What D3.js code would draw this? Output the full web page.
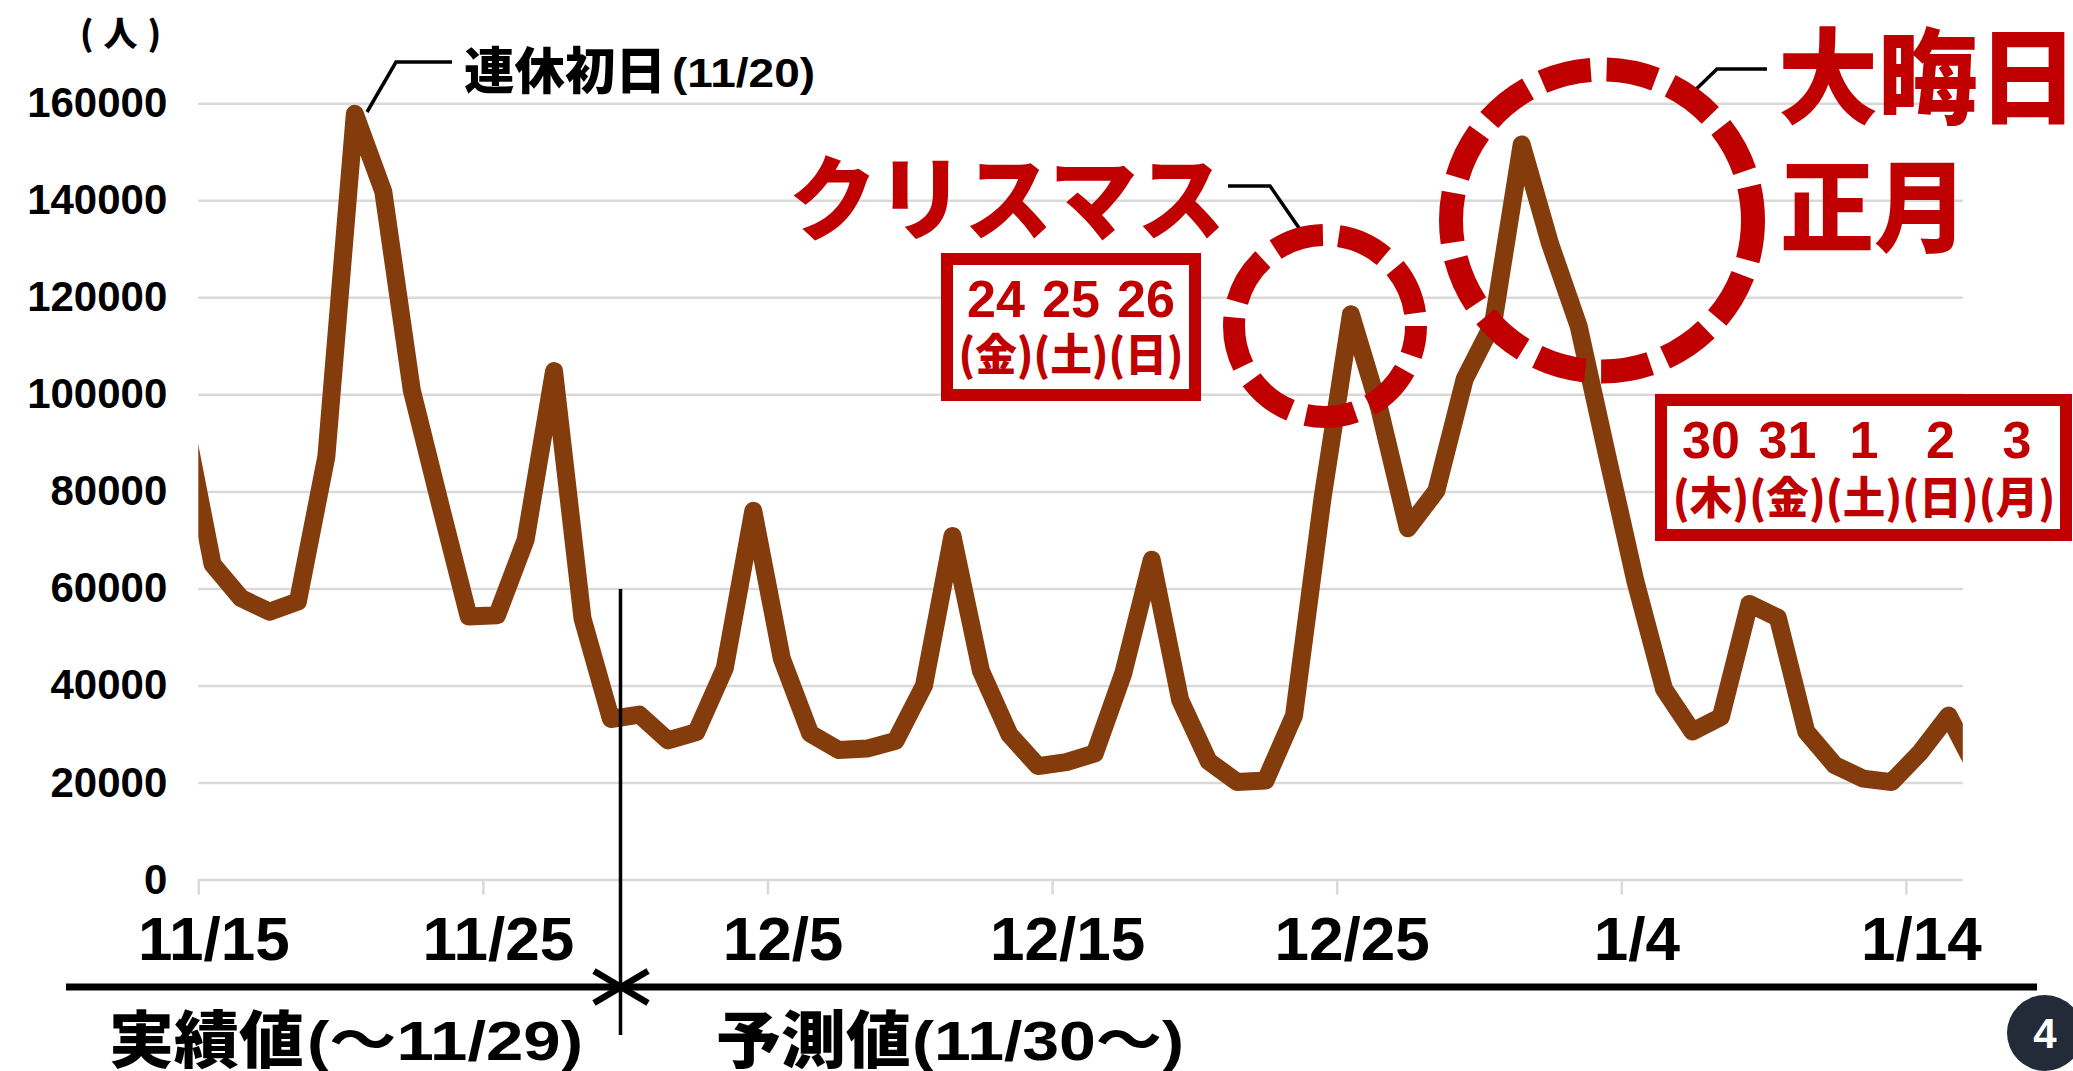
<!DOCTYPE html>
<html>
  <head>
    <meta charset="utf-8">
    <script src="https://d3js.org/d3.v7.min.js"></script>
    <style>
      body { margin: 0; background: #ffffff; }
      .num { font-family: "Liberation Sans", Arial, "Noto Sans CJK JP", sans-serif; font-weight: bold; }
      .jp { font-family: "Noto Sans CJK JP", sans-serif; font-weight: 900; }
    </style>
  </head>
  <body>
    <svg id="chart" width="2073" height="1071"></svg>
    <script>
      // Daily visitors from 11/14/2021 to 1/16/2022 (first and last day are cut by the plot edge)
      var firstDay = "2021-11-14";
      var visitors = [
        95000, 65000, 58000, 55200, 57300, 87200, 157800, 141800, 100900, 77300,
        54200, 54500, 70000, 104800, 53800, 33100, 34000, 28700, 30400, 43600,
        76000, 45600, 30100, 26700, 27000, 28600, 40000, 70800, 43000, 29900,
        23400, 24200, 26000, 42500, 65900, 37000, 24400, 20100, 20400, 33800,
        78500, 116500, 97000, 72400, 80100, 103200, 114700, 151500, 131000, 114100,
        87500, 61400, 39300, 30500, 33500, 56800, 54000, 30500, 23600, 20800,
        20100, 26200, 33800, 22500
      ];
      var yTicks = [0, 20000, 40000, 60000, 80000, 100000, 120000, 140000, 160000];
      var xTicks = ["2021-11-15", "2021-11-25", "2021-12-05", "2021-12-15", "2021-12-25", "2022-01-04", "2022-01-14"];
      var xDomain = ["2021-11-15", "2022-01-16"];
      var xmasDays = ["24", "25", "26"];
      var xmasWeekdays = ["金", "土", "日"];
      var newYearDays = ["30", "31", "1", "2", "3"];
      var newYearWeekdays = ["木", "金", "土", "日", "月"];

      var red = "#C00000";
      var parse = d3.timeParse("%Y-%m-%d");
      var svg = d3.select("#chart");

      // Plot area
      var plotLeft = 198.3, plotRight = 1962.8, plotTop = 103.2, plotBottom = 879.6;

      var x = d3.scaleTime()
        .domain(xDomain.map(parse))
        .range([plotLeft, plotRight]);
      var y = d3.scaleLinear()
        .domain([0, 160000])
        .range([plotBottom, plotTop]);

      // Gridlines + y labels
      var yAxis = svg.append("g")
        .attr("transform", "translate(" + plotLeft + ",0)")
        .call(d3.axisLeft(y).tickValues(yTicks).tickSize(-(plotRight - plotLeft)).tickPadding(31).tickFormat(d3.format("d")));
      yAxis.select(".domain").remove();
      yAxis.selectAll("line").attr("stroke", "#d9d9d9").attr("stroke-width", 2.5);
      yAxis.selectAll("text").attr("class", "num").attr("font-size", 42).attr("fill", "#000");
      yAxis.attr("font-size", null).attr("font-family", null);

      // X axis (date ticks every 10 days), labels sit a little right of their tick
      var xAxis = svg.append("g")
        .attr("transform", "translate(0," + plotBottom + ")")
        .call(d3.axisBottom(x).tickValues(xTicks.map(parse)).tickSize(15).tickPadding(21).tickFormat(d3.timeFormat("%-m/%-d")));
      xAxis.select(".domain").remove();
      xAxis.selectAll("line").attr("stroke", "#d9d9d9").attr("stroke-width", 2.5);
      xAxis.selectAll("text").attr("class", "num").attr("font-size", 62).attr("dx", 15).attr("fill", "#000");
      xAxis.attr("font-size", null).attr("font-family", null);

      // Line, points sit in the middle of each day, clipped to the plot
      svg.append("clipPath").attr("id", "plot-clip")
        .append("rect").attr("x", plotLeft).attr("y", 0).attr("width", plotRight - plotLeft).attr("height", 1071);

      var start = parse(firstDay);
      var points = visitors.map(function(v, i) {
        return { date: d3.timeHour.offset(d3.timeDay.offset(start, i), 12), value: v };
      });
      var line = d3.line()
        .x(function(d) { return x(d.date); })
        .y(function(d) { return y(d.value); });
      svg.append("path")
        .datum(points)
        .attr("clip-path", "url(#plot-clip)")
        .attr("d", line)
        .attr("fill", "none")
        .attr("stroke", "#843C0C")
        .attr("stroke-width", 18)
        .attr("stroke-linejoin", "round");

      // Unit label
      svg.append("text").attr("class", "jp").attr("x", 120.5).attr("y", 31)
        .attr("text-anchor", "middle").attr("dominant-baseline", "central")
        .attr("font-size", 34).attr("font-weight", 700)
        .attr("textLength", 81).attr("lengthAdjust", "spacing")
        .text("(人)");

      // Leader lines
      function leader(pts, w) {
        svg.append("polyline")
          .attr("points", pts.map(function(p) { return p.join(","); }).join(" "))
          .attr("fill", "none").attr("stroke", "#000").attr("stroke-width", w || 3.5);
      }
      leader([[367, 112], [396, 62], [452, 62]]);
      leader([[1228, 186], [1270, 186], [1308, 241]]);
      leader([[1767, 69], [1717, 69], [1685, 100]]);

      // 連休初日 label
      svg.append("text").attr("class", "jp").attr("x", 464).attr("y", 67)
        .attr("dominant-baseline", "central").attr("font-size", 50).attr("font-weight", 700)
        .attr("textLength", 202).attr("lengthAdjust", "spacingAndGlyphs")
        .text("連休初日");
      svg.append("text").attr("class", "num").attr("x", 672).attr("y", 87)
        .attr("font-size", 40).attr("font-weight", "normal")
        .attr("textLength", 143).attr("lengthAdjust", "spacingAndGlyphs")
        .text("(11/20)");

      // Dashed circles
      svg.append("circle").attr("cx", 1325).attr("cy", 326).attr("r", 91)
        .attr("fill", "none").attr("stroke", red).attr("stroke-width", 22)
        .attr("stroke-dasharray", "50 16").attr("stroke-dashoffset", 20);
      svg.append("circle").attr("cx", 1602).attr("cy", 220.5).attr("r", 151)
        .attr("fill", "none").attr("stroke", red).attr("stroke-width", 24)
        .attr("stroke-dasharray", "50 16").attr("stroke-dashoffset", 10);

      // Big red labels
      svg.append("text").attr("class", "jp").attr("x", 789).attr("y", 192)
        .attr("dominant-baseline", "central").attr("font-size", 92).attr("fill", red)
        .attr("textLength", 436).attr("lengthAdjust", "spacingAndGlyphs")
        .text("クリスマス");
      svg.append("text").attr("class", "jp").attr("x", 1778).attr("y", 70)
        .attr("dominant-baseline", "central").attr("font-size", 104).attr("fill", red)
        .attr("textLength", 300).attr("lengthAdjust", "spacingAndGlyphs")
        .text("大晦日");
      svg.append("text").attr("class", "jp").attr("x", 1780).attr("y", 200)
        .attr("dominant-baseline", "central").attr("font-size", 100).attr("fill", red)
        .attr("textLength", 188).attr("lengthAdjust", "spacingAndGlyphs")
        .text("正月");

      // Day boxes: digits centred over a single row of (weekday) groups
      function dayBox(bx, by, bw, bh, firstX, step, days, weekdays, digitBase, weekMid) {
        svg.append("rect").attr("x", bx).attr("y", by).attr("width", bw).attr("height", bh)
          .attr("fill", "#fff").attr("stroke", red).attr("stroke-width", 12);
        svg.selectAll(null).data(days).enter().append("text")
          .attr("class", "num").attr("x", function(d, i) { return firstX + i * step; })
          .attr("y", digitBase).attr("text-anchor", "middle")
          .attr("font-size", 52).attr("fill", red)
          .text(function(d) { return d; });
        svg.append("text")
          .attr("class", "jp").attr("x", firstX - step / 2)
          .attr("y", weekMid).attr("dominant-baseline", "central")
          .attr("font-size", 44).attr("font-weight", 700).attr("fill", red)
          .attr("textLength", step * weekdays.length).attr("lengthAdjust", "spacingAndGlyphs")
          .text(weekdays.map(function(d) { return "(" + d + ")"; }).join(""));
      }
      dayBox(947, 259, 248, 136, 996, 75, xmasDays, xmasWeekdays, 317, 352);
      dayBox(1661, 400, 405, 135, 1711, 76.5, newYearDays, newYearWeekdays, 458, 495);

      // Actual / forecast divider
      svg.append("line").attr("x1", 620.5).attr("x2", 620.5).attr("y1", 589).attr("y2", 1035)
        .attr("stroke", "#000").attr("stroke-width", 3.5);
      svg.append("line").attr("x1", 66).attr("x2", 2037).attr("y1", 987).attr("y2", 987)
        .attr("stroke", "#000").attr("stroke-width", 7);
      leader([[594, 971], [621, 987], [594, 1003]], 6.5);
      leader([[648, 971], [621, 987], [648, 1003]], 6.5);

      svg.append("text").attr("class", "jp").attr("x", 109).attr("y", 1036)
        .attr("dominant-baseline", "central").attr("font-size", 62)
        .attr("textLength", 195).attr("lengthAdjust", "spacingAndGlyphs")
        .text("実績値");
      svg.append("text").attr("class", "num").attr("x", 307).attr("y", 1060)
        .attr("font-size", 56).attr("font-weight", "normal")
        .attr("textLength", 276).attr("lengthAdjust", "spacingAndGlyphs")
        .text("(～11/29)");
      svg.append("text").attr("class", "jp").attr("x", 716).attr("y", 1036)
        .attr("dominant-baseline", "central").attr("font-size", 62)
        .attr("textLength", 195).attr("lengthAdjust", "spacingAndGlyphs")
        .text("予測値");
      svg.append("text").attr("class", "num").attr("x", 912).attr("y", 1060)
        .attr("font-size", 56).attr("font-weight", "normal")
        .attr("textLength", 272).attr("lengthAdjust", "spacingAndGlyphs")
        .text("(11/30～)");

      // Page number
      svg.append("circle").attr("cx", 2045).attr("cy", 1033).attr("r", 38).attr("fill", "#232b38");
      svg.append("text").attr("class", "num").attr("x", 2045).attr("y", 1048)
        .attr("text-anchor", "middle").attr("font-size", 42).attr("font-weight", "normal").attr("fill", "#fff")
        .text("4");
    </script>
  </body>
</html>
